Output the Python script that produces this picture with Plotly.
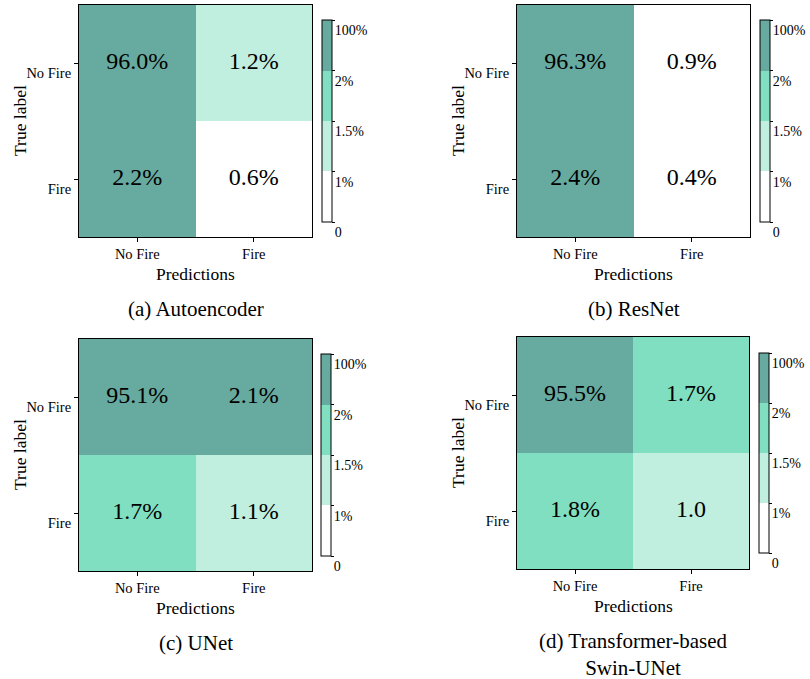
import plotly.graph_objects as go

# Confusion-matrix cell values (percent of all pixels)
classes = ["No Fire", "Fire"]
autoencoder_vals = [[96.0, 1.2], [2.2, 0.6]]
resnet_vals = [[96.3, 0.9], [2.4, 0.4]]
unet_vals = [[95.1, 2.1], [1.7, 1.1]]
swin_vals = [[95.5, 1.7], [1.8, 1.0]]
swin_suffix = [["%", "%"], ["%", ""]]

captions = ["(a) Autoencoder", "(b) ResNet", "(c) UNet", "(d) Transformer-based<br>Swin-UNet"]

# Colour bins: 0-1%, 1-1.5%, 1.5-2%, 2-100%
bin_edges = [1.0, 1.5, 2.0]
cbar_ticktext = ["0", "1%", "1.5%", "2%", "100%"]
colors = ["#ffffff", "#c0eedf", "#80dfc0", "#67aa9f"]

W, H = 810, 679
FONT = "Liberation Serif"


def bin_of(v):
    b = 0
    for e in bin_edges:
        if v >= e:
            b += 1
    return b + 0.5


colorscale = []
for i, c in enumerate(colors):
    colorscale += [[i / 4, c], [(i + 1) / 4, c]]

panels = [
    (autoencoder_vals, None, (79, 312, 5, 237), (322, 20, 222)),
    (resnet_vals, None, (517, 750, 5, 237), (760, 20, 222)),
    (unet_vals, None, (79, 312, 339, 571), (321, 354, 556)),
    (swin_vals, swin_suffix, (517, 749, 337, 569), (759, 353, 553)),
]

fig = go.Figure()
for k, (vals, suffix, box, cb) in enumerate(panels):
    x0, x1, y0, y1 = box
    n = "" if k == 0 else str(k + 1)
    z = [[bin_of(v) for v in row] for row in vals]
    cbx, cby0, cby1 = cb
    fig.add_trace(go.Heatmap(
        z=z, x=classes, y=classes,
        colorscale=colorscale, zmin=0, zmax=4, hoverinfo="skip",
        xaxis="x" + n, yaxis="y" + n,
        colorbar=dict(
            x=cbx / W, xanchor="left", xref="paper", xpad=0, ypad=0,
            y=1 - cby0 / H, yanchor="top", yref="paper",
            len=(cby1 - cby0) / H, lenmode="fraction",
            thickness=10, outlinewidth=1, outlinecolor="black",
            tickvals=[0, 1, 2, 3, 4], ticktext=cbar_ticktext,
            ticks="outside", ticklen=3, tickcolor="black",
            ticklabelposition="outside bottom",
            tickfont=dict(family=FONT, size=14, color="black"),
        ),
    ))
    # cell value labels
    tx, ty, tt = [], [], []
    for i, row in enumerate(vals):
        for j, v in enumerate(row):
            tx.append(classes[j])
            ty.append(classes[i])
            tt.append(f"{v:.1f}" + (suffix[i][j] if suffix else "%"))
    fig.add_trace(go.Scatter(
        x=tx, y=ty, text=tt, mode="text", hoverinfo="skip",
        textfont=dict(family=FONT, size=24, color="black"),
        xaxis="x" + n, yaxis="y" + n))

    axis_common = dict(showline=True, mirror=True, linecolor="black", linewidth=1,
                       ticks="outside", ticklen=4, tickcolor="black",
                       tickfont=dict(family=FONT, size=14.5, color="black"),
                       showgrid=False, zeroline=False, fixedrange=True)
    fig.layout["xaxis" + n] = dict(domain=[x0 / W, x1 / W], anchor="y" + n, **axis_common)
    fig.layout["yaxis" + n] = dict(
        domain=[1 - y1 / H, 1 - y0 / H], anchor="x" + n, autorange="reversed",
        ticklabelshift=-10, **axis_common)

    # axis titles
    fig.add_annotation(
        text="Predictions", x=(x0 + x1) / 2 / W, y=1 - (y1 + 37) / H,
        xref="paper", yref="paper", xanchor="center", yanchor="middle", showarrow=False,
        font=dict(family=FONT, size=17.5, color="black"))
    fig.add_annotation(
        text="True label", x=(x0 - 59) / W, y=1 - (y0 + y1) / 2 / H, textangle=-90,
        xref="paper", yref="paper", xanchor="center", yanchor="middle", showarrow=False,
        font=dict(family=FONT, size=17.5, color="black"))
    # panel caption
    fig.add_annotation(
        text=captions[k], x=(x0 + x1) / 2 / W, y=1 - (y1 + 58) / H,
        xref="paper", yref="paper", xanchor="center", yanchor="top", showarrow=False,
        font=dict(family=FONT, size=21, color="black"))

fig.update_layout(
    width=W, height=H, margin=dict(l=0, r=0, t=0, b=0),
    paper_bgcolor="white", plot_bgcolor="white", showlegend=False,
)

fig.write_html("out.html")
